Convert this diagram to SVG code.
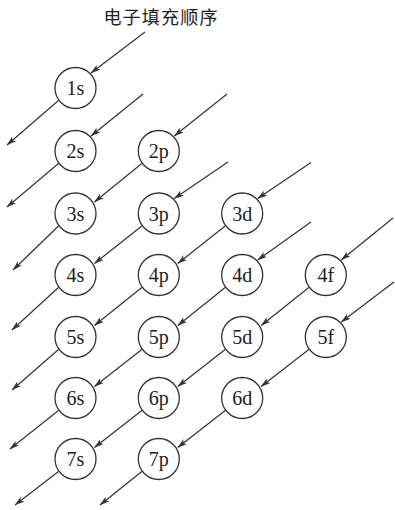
<svg xmlns="http://www.w3.org/2000/svg" width="395" height="510" viewBox="0 0 395 510">
  <style>
    .bg { fill: #ffffff; }
    .node circle { fill: #ffffff; stroke: #333333; stroke-width: 1.3; }
    .node text { font-family: "Liberation Serif", "Times New Roman", serif; font-size: 20px; fill: #222222; text-anchor: middle; }
    .title { font-family: "Noto Sans CJK SC", "Noto Sans", sans-serif; font-size: 18px; fill: #222222; text-anchor: middle; letter-spacing: 1.2px; }
    #connectors line { stroke: #333333; stroke-width: 1.2; fill: none; marker-end: url(#arrow); }
  </style>
  <defs>
    <marker id="arrow" markerUnits="userSpaceOnUse" markerWidth="10" markerHeight="6" viewBox="0 0 10 6" refX="9.5" refY="3" orient="auto">
      <path d="M0,0 L10,3 L0,6 L2.5,3 Z" fill="#333333"/>
    </marker>
  </defs>
  <rect class="bg" x="0" y="0" width="395" height="510"/>

  <text id="title" class="title" x="161" y="24">电子填充顺序</text>

  <g id="connectors">
    <!-- diagonal 1s -->
    <line x1="145" y1="32" x2="91" y2="73"/>
    <line x1="58.5" y1="100.5" x2="7" y2="145"/>
    <!-- diagonal 2s -->
    <line x1="143" y1="94" x2="91" y2="136"/>
    <line x1="58.5" y1="163.5" x2="7" y2="207"/>
    <!-- diagonal 2p,3s -->
    <line x1="227" y1="94" x2="174.3" y2="136"/>
    <line x1="141.8" y1="163.5" x2="94.5" y2="202"/>
    <line x1="58.5" y1="226" x2="13" y2="270"/>
    <!-- diagonal 3p,4s -->
    <line x1="228" y1="162" x2="174.3" y2="198.5"/>
    <line x1="141.8" y1="226" x2="94.5" y2="263.5"/>
    <line x1="58.5" y1="287.5" x2="12" y2="330"/>
    <!-- diagonal 3d,4p,5s -->
    <line x1="311" y1="162.5" x2="257.7" y2="198.5"/>
    <line x1="225.2" y1="226" x2="177.8" y2="263.5"/>
    <line x1="141.8" y1="287.5" x2="94.5" y2="325.5"/>
    <line x1="58.5" y1="349.5" x2="12" y2="390"/>
    <!-- diagonal 4d,5p,6s -->
    <line x1="311" y1="222" x2="257.7" y2="260"/>
    <line x1="225.2" y1="287.5" x2="177.8" y2="325.5"/>
    <line x1="141.8" y1="349.5" x2="94.5" y2="386.5"/>
    <line x1="58.5" y1="410.5" x2="10" y2="449"/>
    <!-- diagonal 4f,5d,6p,7s -->
    <line x1="393" y1="218" x2="341.3" y2="260"/>
    <line x1="308.8" y1="287.5" x2="261.2" y2="325.5"/>
    <line x1="225.2" y1="349.5" x2="177.8" y2="386.5"/>
    <line x1="141.8" y1="410.5" x2="94.5" y2="447.5"/>
    <line x1="58.5" y1="471.5" x2="15" y2="505"/>
    <!-- diagonal 5f,6d,7p -->
    <line x1="394" y1="282" x2="341.3" y2="322"/>
    <line x1="308.8" y1="349.5" x2="261.2" y2="386.5"/>
    <line x1="225.2" y1="410.5" x2="177.8" y2="447.5"/>
    <line x1="141.8" y1="471.5" x2="100" y2="505"/>
  </g>

  <g id="n1s" class="node"><circle cx="75.5" cy="88" r="20.5"/><text x="75.5" y="95">1s</text></g>
  <g id="n2s" class="node"><circle cx="75.5" cy="151" r="20.5"/><text x="75.5" y="158">2s</text></g>
  <g id="n2p" class="node"><circle cx="158.8" cy="151" r="20.5"/><text x="158.8" y="158">2p</text></g>
  <g id="n3s" class="node"><circle cx="75.5" cy="213.5" r="20.5"/><text x="75.5" y="220.5">3s</text></g>
  <g id="n3p" class="node"><circle cx="158.8" cy="213.5" r="20.5"/><text x="158.8" y="220.5">3p</text></g>
  <g id="n3d" class="node"><circle cx="242.2" cy="213.5" r="20.5"/><text x="242.2" y="220.5">3d</text></g>
  <g id="n4s" class="node"><circle cx="75.5" cy="275" r="20.5"/><text x="75.5" y="282">4s</text></g>
  <g id="n4p" class="node"><circle cx="158.8" cy="275" r="20.5"/><text x="158.8" y="282">4p</text></g>
  <g id="n4d" class="node"><circle cx="242.2" cy="275" r="20.5"/><text x="242.2" y="282">4d</text></g>
  <g id="n4f" class="node"><circle cx="325.8" cy="275" r="20.5"/><text x="325.8" y="282">4f</text></g>
  <g id="n5s" class="node"><circle cx="75.5" cy="337" r="20.5"/><text x="75.5" y="344">5s</text></g>
  <g id="n5p" class="node"><circle cx="158.8" cy="337" r="20.5"/><text x="158.8" y="344">5p</text></g>
  <g id="n5d" class="node"><circle cx="242.2" cy="337" r="20.5"/><text x="242.2" y="344">5d</text></g>
  <g id="n5f" class="node"><circle cx="325.8" cy="337" r="20.5"/><text x="325.8" y="344">5f</text></g>
  <g id="n6s" class="node"><circle cx="75.5" cy="398" r="20.5"/><text x="75.5" y="405">6s</text></g>
  <g id="n6p" class="node"><circle cx="158.8" cy="398" r="20.5"/><text x="158.8" y="405">6p</text></g>
  <g id="n6d" class="node"><circle cx="242.2" cy="398" r="20.5"/><text x="242.2" y="405">6d</text></g>
  <g id="n7s" class="node"><circle cx="75.5" cy="459" r="20.5"/><text x="75.5" y="466">7s</text></g>
  <g id="n7p" class="node"><circle cx="158.8" cy="459" r="20.5"/><text x="158.8" y="466">7p</text></g>
</svg>
